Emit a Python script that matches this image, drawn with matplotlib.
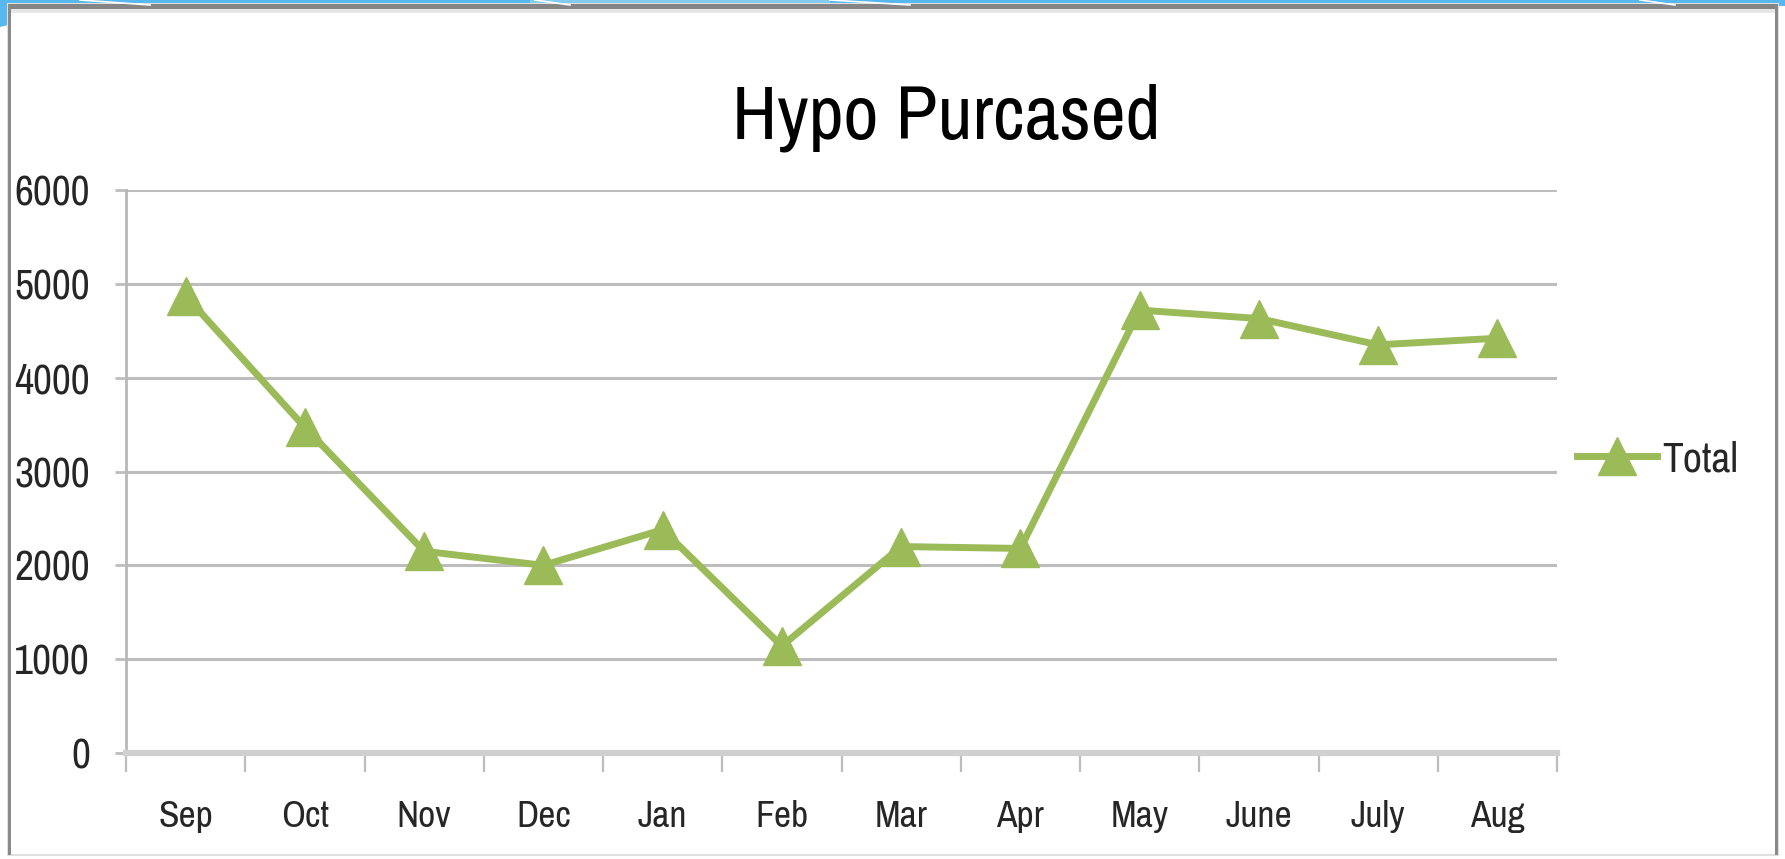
#!/usr/bin/env python3
"""
Hypo purchased per month, Excel-style line chart on a slide frame.
"""
import numpy as np
import matplotlib
matplotlib.use('Agg')
import matplotlib.pyplot as plt
from matplotlib import font_manager
from matplotlib.patches import Rectangle, Polygon

# Data
months = ['Sep', 'Oct', 'Nov', 'Dec', 'Jan', 'Feb',
          'Mar', 'Apr', 'May', 'June', 'July', 'Aug']
totals = [4870, 3470, 2150, 2000, 2380, 1140,
          2200, 2180, 4720, 4630, 4350, 4420]
yticks = [0, 1000, 2000, 3000, 4000, 5000, 6000]
title = 'Hypo Purcased'
series_name = 'Total'

# The original uses a condensed face; take one if any is installed
narrow = [f for f in font_manager.fontManager.ttflist
          if ('Narrow' in f.name or 'Condensed' in f.name
              or f.stretch in ('condensed', 'semi-condensed'))
          and f.style == 'normal' and f.weight in (400, 'normal', 'regular')]
narrow.sort(key=lambda f: ('Narrow' not in f.name, f.name))
if narrow:
    fp = font_manager.FontProperties(fname=narrow[0].fname)
    ytick_fs, xtick_fs, title_fs, leg_fs = 30, 27, 55, 30
else:
    fp = font_manager.FontProperties(family='Liberation Sans')
    ytick_fs, xtick_fs, title_fs, leg_fs = 26, 23, 48, 26


def font(size):
    p = fp.copy()
    p.set_size(size)
    return p


green = '#9bbb59'
grid_c = '#bdbdbd'
text_c = '#262626'

W, H = 1785, 859
fig = plt.figure(figsize=(W / 100, H / 100), dpi=100)

# Slide background / frame, drawn in pixel coordinates
bg = fig.add_axes([0, 0, 1, 1], zorder=-1)
bg.set_xlim(0, W)
bg.set_ylim(H, 0)
bg.set_axis_off()
blue = '#56b8ee'
bg.add_patch(Rectangle((0, 0), W, 6, color=blue, lw=0))
bg.add_patch(Rectangle((530, 0), 300, 6, color='#82cbf2', lw=0))
bg.add_patch(Polygon([(0, 0), (110, 0), (0, 27)], closed=True, color=blue, lw=0))
for xs in [(80, 150), (535, 570), (830, 910), (1640, 1675)]:
    bg.plot(xs, (0, 5), color='white', lw=1.2)
bg.add_patch(Rectangle((8, 4), W - 15, H - 8, facecolor='white',
                       edgecolor='#e0e0e0', lw=1.5))
bg.add_patch(Rectangle((8, 4), W - 15, 5, color='#858585', lw=0))
bg.add_patch(Rectangle((11, 9), W - 21, 4, color='#e6e6e6', lw=0))
bg.add_patch(Rectangle((8, 4), 3, H - 8, color='#8a8a8a', lw=0))
bg.add_patch(Rectangle((W - 10, 4), 3, H - 8, color='#8a8a8a', lw=0))

# Chart
ax = fig.add_axes([126 / W, 1 - 753 / H, (1557 - 126) / W, (753 - 190) / H])
x = np.arange(len(months))
ax.plot(x, totals, color=green, lw=5, marker='^', ms=28,
        mec=green, mfc=green, label=series_name, zorder=3, clip_on=False)

ax.set_xlim(-0.5, len(months) - 0.5)
ax.set_ylim(yticks[0], yticks[-1])
ax.set_yticks(yticks)
ax.set_yticklabels([str(v) for v in yticks], fontproperties=font(ytick_fs))
ax.yaxis.grid(True, color=grid_c, lw=2.2)
ax.set_axisbelow(True)

# category boundary ticks + centred labels
ax.set_xticks(np.arange(-0.5, len(months)))
ax.set_xticklabels([])
ax.set_xticks(x, minor=True)
ax.set_xticklabels(months, minor=True, fontproperties=font(xtick_fs))
ax.tick_params(axis='x', which='major', direction='out', length=14,
               width=1.6, color='#bdbdbd')
ax.tick_params(axis='x', which='minor', length=0, pad=34, labelcolor=text_c)
ax.tick_params(axis='y', direction='out', length=8, width=2,
               color=grid_c, pad=18, labelcolor=text_c)

for s in ('top', 'right'):
    ax.spines[s].set_visible(False)
ax.spines['left'].set_color('#b8b8b8')
ax.spines['left'].set_linewidth(2)
ax.spines['bottom'].set_color('#d0d0d0')
ax.spines['bottom'].set_linewidth(4.5)

fig.text(946 / W, 1 - 118 / H, title, ha='center', va='center',
         fontproperties=font(title_fs), color='black')

leg_px = leg_fs * 100 / 72
leg = fig.legend(loc='center left', bbox_to_anchor=(1577 / W, 1 - 459 / H),
                 frameon=False, prop=font(leg_fs), handlelength=80 / leg_px,
                 handletextpad=0.12, borderpad=0, borderaxespad=0)
for t in leg.get_texts():
    t.set_color(text_c)

fig.savefig('out.png', dpi=100)
